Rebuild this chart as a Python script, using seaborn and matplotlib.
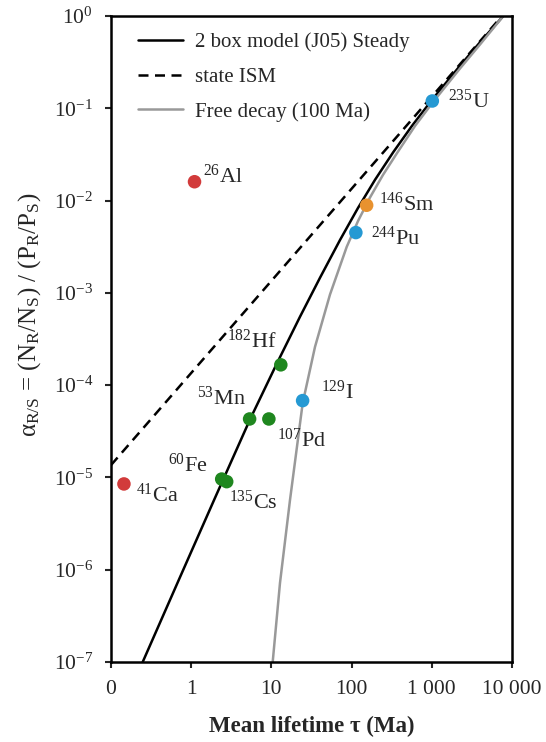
import matplotlib
matplotlib.use("Agg")
import pandas as pd
import matplotlib.pyplot as plt
from matplotlib.ticker import FixedLocator, FixedFormatter, LogFormatterMathtext, NullLocator
import seaborn as sns

# ---- values ---------------------------------------------------------------
nuclides = ["26Al", "41Ca", "60Fe", "135Cs", "53Mn", "107Pd",
            "182Hf", "129I", "244Pu", "146Sm", "235U"]
mean_life = [1.1, 0.145, 2.40, 2.77, 5.35, 9.3, 13.1, 24.5, 113, 154, 1015]
alpha_obs = [1.6e-2, 8.5e-6, 9.6e-6, 9.0e-6, 4.3e-5, 4.3e-5,
             1.66e-4, 6.8e-5, 4.5e-3, 8.9e-3, 0.12]
group = ["red", "red", "green", "green", "green", "green",
         "green", "blue", "blue", "orange", "blue"]

# 2 box model (J05), steady state
box_tau = [0.2485, 0.725, 1.98, 5.41, 11.4, 22.7, 40.4, 71.7, 120, 196,
           331, 566, 1026, 2247, 3990, 7789]
box_alpha = [1e-7, 8.3e-7, 6.0e-6, 4.25e-5, 1.64e-4, 5.5e-4, 1.46e-3, 3.74e-3,
             8.3e-3, 1.68e-2, 3.35e-2, 6.45e-2, 0.126, 0.289, 0.519, 1.0]

# steady-state ISM
ism_tau = [0.1, 7500]
ism_alpha = [1.36e-5, 1.0]

# free decay (100 Ma)
free_tau = [10.38, 12.8, 17.06, 24.56, 34.97, 53.8, 86.9, 120.2, 169.6, 246.4,
            365, 617, 1026, 2247, 3990, 7789]
free_alpha = [1e-7, 7.2e-7, 5.7e-6, 6.4e-5, 2.6e-4, 9.6e-4, 3.15e-3, 6.0e-3,
              1.08e-2, 1.9e-2, 3.23e-2, 6.43e-2, 0.1156, 0.270, 0.491, 1.0]

x_ticks = [0.1, 1, 10, 100, 1000, 10000]
x_tick_labels = ["0", "1", "10", "100", "1 000", "10 000"]
y_ticks = [1e-7, 1e-6, 1e-5, 1e-4, 1e-3, 1e-2, 1e-1, 1e0]

palette = {"red": "#d23b3b", "green": "#1f871f",
           "blue": "#2599d3", "orange": "#e8922f"}

# label offsets (points) relative to each dot
label_offset = {
    "26Al": (6, 4, "left"), "41Ca": (9, -8, "left"), "60Fe": (-10, 10, "right"),
    "135Cs": (2, -15, "left"), "53Mn": (-3, 15, "right"), "107Pd": (6, -15, "left"),
    "182Hf": (-3, 17, "right"), "129I": (13, 6, "left"), "244Pu": (11, -4, "left"),
    "146Sm": (9, 1, "left"), "235U": (11, 0, "left"),
}

sns.set_style("ticks")
plt.rcParams["font.family"] = ["Liberation Serif", "DejaVu Serif"]
plt.rcParams["mathtext.fontset"] = "custom"
plt.rcParams["mathtext.rm"] = "Liberation Serif"
plt.rcParams["mathtext.it"] = "Liberation Serif:italic"
plt.rcParams["mathtext.bf"] = "Liberation Serif:bold"

fig = plt.figure(figsize=(5.46, 7.42), dpi=100)
ax = fig.add_axes([111 / 546, 1 - 662 / 742, 401 / 546, 646 / 742])
ax.set_xscale("log")
ax.set_yscale("log")

sns.lineplot(x=box_tau, y=box_alpha, ax=ax, color="black", lw=1.8,
             estimator=None, label="2 box model (J05) Steady")
sns.lineplot(x=ism_tau, y=ism_alpha, ax=ax, color="black", lw=1.8,
             linestyle=(0, (4, 2.6)), estimator=None, label="state ISM")
sns.lineplot(x=free_tau, y=free_alpha, ax=ax, color="#999999", lw=1.8,
             estimator=None, label="Free decay (100 Ma)")

pts = pd.DataFrame({"nuclide": nuclides, "tau": mean_life,
                    "alpha": alpha_obs, "group": group})
sns.scatterplot(data=pts, x="tau", y="alpha", hue="group", palette=palette,
                s=95, linewidth=0, ax=ax, legend=False, zorder=3)

for name, t, a in zip(nuclides, mean_life, alpha_obs):
    dx, dy, ha = label_offset[name]
    num = "".join(c for c in name if c.isdigit())
    sym = "".join(c for c in name if not c.isdigit())
    ax.annotate(r"$^{\mathregular{%s}}$%s" % (num, sym), (t, a),
                xytext=(dx, dy), textcoords="offset points",
                ha=ha, va="center", fontsize=16)

ax.set_xlim(0.1, 10000)
ax.set_ylim(1e-7, 1)
ax.xaxis.set_major_locator(FixedLocator(x_ticks))
ax.xaxis.set_major_formatter(FixedFormatter(x_tick_labels))
ax.yaxis.set_major_locator(FixedLocator(y_ticks))
ax.yaxis.set_major_formatter(LogFormatterMathtext())
ax.xaxis.set_minor_locator(NullLocator())
ax.yaxis.set_minor_locator(NullLocator())
ax.tick_params(axis="both", labelsize=15.5, length=4, width=1.5,
               direction="out", pad=9)
for sp in ax.spines.values():
    sp.set_linewidth(1.8)
    sp.set_color("black")

ax.set_xlabel("Mean lifetime τ (Ma)", fontsize=16.5, fontweight="bold")
ax.xaxis.set_label_coords(0.5, -0.083)
ax.set_ylabel(r"α$_{\mathregular{R/S}}$ = (N$_\mathregular{R}$/N$_\mathregular{S}$) / "
              r"(P$_\mathregular{R}$/P$_\mathregular{S}$)", fontsize=18)
ax.yaxis.set_label_coords(-0.17, 0.537)

ax.legend(loc="upper left", bbox_to_anchor=(0.047, 0.987), borderaxespad=0,
          frameon=False, fontsize=15, handlelength=2.16, handletextpad=0.58,
          labelspacing=0.72)

fig.savefig("out.png", dpi=100)
